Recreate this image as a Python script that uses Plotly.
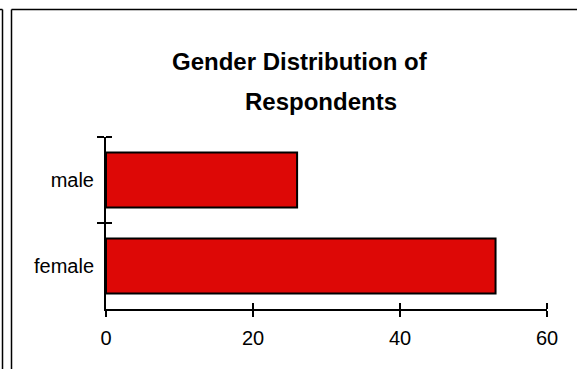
import plotly.graph_objects as go

# Survey counts by gender
categories = ["female", "male"]
counts = [53, 26]
x_ticks = [0, 20, 40, 60]
title_lines = ["Gender Distribution of", "Respondents"]

W, H = 577, 369
# inner plotting box (axes) in pixels
AX_L, AX_R, AX_T, AX_B = 106, 547, 137, 309
PAD = 3  # extra room so the inner half of the end ticks is not clipped
ML, MR = AX_L - PAD, W - AX_R - PAD
MT, MB = AX_T - PAD, H - AX_B - PAD
PW, PH = W - ML - MR, H - MT - MB


def px(x):
    return (x - ML) / PW


def py(y):
    return (H - MB - y) / PH


FONT = "Arial, Liberation Sans, sans-serif"

x_lo, x_hi = x_ticks[0], x_ticks[-1]
y_lo, y_hi = -0.5, len(categories) - 0.5
x_unit = (AX_R - AX_L) / (x_hi - x_lo)
y_unit = (AX_B - AX_T) / (y_hi - y_lo)

fig = go.Figure()
fig.add_trace(go.Bar(
    y=categories,
    x=counts,
    orientation="h",
    marker=dict(color="#DD0806", line=dict(color="black", width=2)),
    showlegend=False,
    hoverinfo="x+y",
))
# invisible trace so the helper tick axes are drawn
fig.add_trace(go.Scatter(x=[None], y=[None], xaxis="x2", yaxis="y2",
                         showlegend=False, hoverinfo="skip"))

tick = dict(tickwidth=1.5, tickcolor="black")

fig.update_layout(
    width=W, height=H,
    margin=dict(l=ML, r=MR, t=MT, b=MB, pad=0),
    paper_bgcolor="white",
    plot_bgcolor="rgba(0,0,0,0)",
    bargap=0.36,
    font=dict(family=FONT, size=20, color="black"),
    xaxis=dict(
        domain=[px(AX_L), px(AX_R)],
        range=[x_lo, x_hi],
        tickvals=x_ticks,
        ticks="outside", ticklen=6, **tick,
        showline=True, linecolor="black", linewidth=1.5,
        showgrid=False, zeroline=False,
        ticklabelstandoff=4,
    ),
    # helper x axis (slightly wider span) draws the inner half of the
    # crossing ticks; the one at the origin would sit on the y axis line
    xaxis2=dict(
        anchor="y", side="bottom",
        domain=[0, 1],
        range=[x_lo - PAD / x_unit, x_hi + PAD / x_unit],
        tickvals=x_ticks[1:],
        ticks="inside", ticklen=6, **tick,
        showticklabels=False, showline=False, showgrid=False, zeroline=False,
    ),
    yaxis=dict(
        domain=[py(AX_B), py(AX_T)],
        type="category",
        categoryorder="array", categoryarray=categories,
        range=[y_lo, y_hi],
        tickson="boundaries",
        ticks="outside", ticklen=7, **tick,
        showline=True, linecolor="black", linewidth=2,
        showgrid=False, zeroline=False,
        ticklabelstandoff=6,
    ),
    yaxis2=dict(
        anchor="x", side="left",
        domain=[0, 1],
        range=[y_lo - PAD / y_unit, y_hi + PAD / y_unit],
        tickvals=[i + 0.5 for i in range(len(categories))],
        ticks="inside", ticklen=6, **tick,
        showticklabels=False, showline=False, showgrid=False, zeroline=False,
    ),
)

# Two-line title, second line indented
fig.add_annotation(text="<b>%s</b>" % title_lines[0], xref="paper", yref="paper",
                   x=px(170), y=py(62), xanchor="left", yanchor="middle",
                   showarrow=False, font=dict(family=FONT, size=24, color="black"))
fig.add_annotation(text="<b>%s</b>" % title_lines[1], xref="paper", yref="paper",
                   x=px(243), y=py(101), xanchor="left", yanchor="middle",
                   showarrow=False, font=dict(family=FONT, size=24, color="black"))

# Outer frame lines of the page
frame = dict(color="black", width=1.5)
fig.add_shape(type="line", xref="paper", yref="paper",
              x0=px(11.5), y0=py(9.5), x1=px(11.5), y1=py(H + 2), line=frame)
fig.add_shape(type="line", xref="paper", yref="paper",
              x0=px(11.5), y0=py(9.5), x1=px(W + 2), y1=py(9.5), line=frame)
fig.add_shape(type="line", xref="paper", yref="paper",
              x0=px(2.5), y0=py(9.5), x1=px(2.5), y1=py(H + 2), line=frame)
fig.add_shape(type="line", xref="paper", yref="paper",
              x0=px(-2), y0=py(9.5), x1=px(2.5), y1=py(9.5), line=frame)

fig.write_html("out.html")
